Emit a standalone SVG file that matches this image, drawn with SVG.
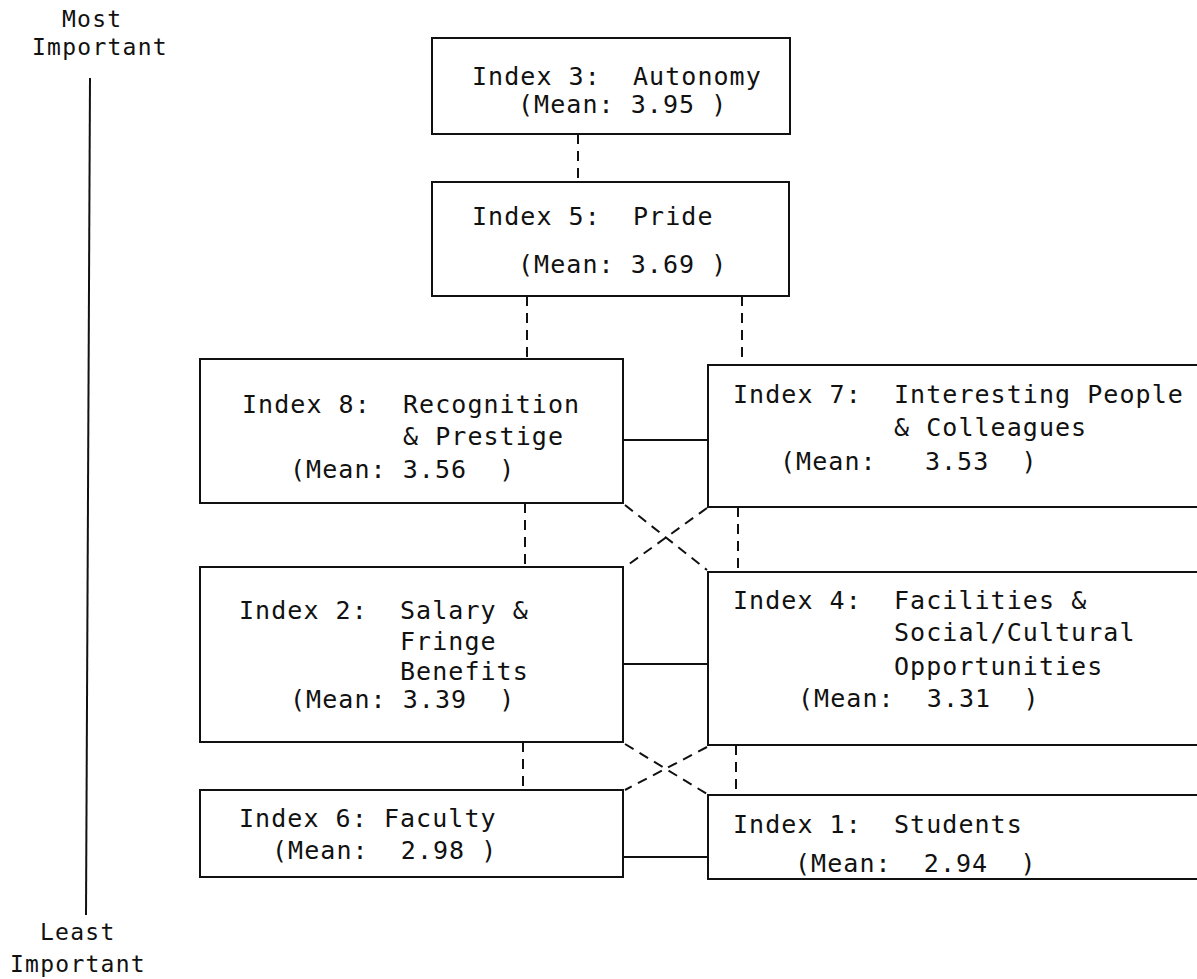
<svg xmlns="http://www.w3.org/2000/svg" width="1197" height="979" viewBox="0 0 1197 979">
<style>
.box{fill:none;stroke:#111;stroke-width:2}
.t{font-family:"DejaVu Sans Mono","Liberation Mono",monospace;font-size:25px;letter-spacing:1.05px;fill:#111}
.ax{font-family:"DejaVu Sans Mono","Liberation Mono",monospace;font-size:23px;letter-spacing:1.25px;fill:#111}
.solid{stroke:#111;stroke-width:2;fill:none}
.dash{stroke:#111;stroke-width:2;fill:none;stroke-dasharray:10 7}
</style>
<rect width="1197" height="979" fill="#fff"/>
<g id="axis">
<line class="solid" x1="90" y1="78" x2="86" y2="915"/>
<text class="ax" x="62" y="27">Most</text>
<text class="ax" x="32" y="55">Important</text>
<text class="ax" x="40" y="940">Least</text>
<text class="ax" x="10" y="972">Important</text>
</g>
<g id="connectors">
<line class="dash" x1="578" y1="134" x2="578" y2="182"/>
<line class="dash" x1="527" y1="296" x2="527" y2="359"/>
<line class="dash" x1="742" y1="296" x2="742" y2="365"/>
<line class="solid" x1="623" y1="440" x2="708" y2="440"/>
<line class="dash" x1="525" y1="503" x2="525" y2="567"/>
<line class="dash" x1="738" y1="507" x2="738" y2="572"/>
<line class="dash" x1="625" y1="505" x2="707" y2="570"/>
<line class="dash" x1="707" y1="508" x2="625" y2="567"/>
<line class="solid" x1="623" y1="664" x2="708" y2="664"/>
<line class="dash" x1="523" y1="742" x2="523" y2="790"/>
<line class="dash" x1="736" y1="745" x2="736" y2="795"/>
<line class="dash" x1="625" y1="744" x2="707" y2="794"/>
<line class="dash" x1="707" y1="747" x2="625" y2="790"/>
<line class="solid" x1="623" y1="857" x2="708" y2="857"/>
</g>
<g id="index3">
<rect class="box" x="432" y="38" width="358" height="96"/>
<text class="t" xml:space="preserve" x="472" y="85">Index 3:  Autonomy</text>
<text class="t" xml:space="preserve" x="518" y="113">(Mean: 3.95 )</text>
</g>
<g id="index5">
<rect class="box" x="432" y="182" width="357" height="114"/>
<text class="t" xml:space="preserve" x="472" y="225">Index 5:  Pride</text>
<text class="t" xml:space="preserve" x="518" y="273">(Mean: 3.69 )</text>
</g>
<g id="index8">
<rect class="box" x="200" y="359" width="423" height="144"/>
<text class="t" xml:space="preserve" x="242" y="413">Index 8:  Recognition</text>
<text class="t" xml:space="preserve" x="403" y="445">&amp; Prestige</text>
<text class="t" xml:space="preserve" x="290" y="478">(Mean: 3.56  )</text>
</g>
<g id="index7">
<rect class="box" x="708" y="365" width="500" height="142"/>
<text class="t" xml:space="preserve" x="733" y="403">Index 7:  Interesting People</text>
<text class="t" xml:space="preserve" x="894" y="436">&amp; Colleagues</text>
<text class="t" xml:space="preserve" x="780" y="470">(Mean:   3.53  )</text>
</g>
<g id="index2">
<rect class="box" x="200" y="567" width="423" height="175"/>
<text class="t" xml:space="preserve" x="239" y="619">Index 2:  Salary &amp;</text>
<text class="t" xml:space="preserve" x="400" y="650">Fringe</text>
<text class="t" xml:space="preserve" x="400" y="680">Benefits</text>
<text class="t" xml:space="preserve" x="290" y="708">(Mean: 3.39  )</text>
</g>
<g id="index4">
<rect class="box" x="708" y="572" width="500" height="173"/>
<text class="t" xml:space="preserve" x="733" y="609">Index 4:  Facilities &amp;</text>
<text class="t" xml:space="preserve" x="894" y="641">Social/Cultural</text>
<text class="t" xml:space="preserve" x="894" y="675">Opportunities</text>
<text class="t" xml:space="preserve" x="798" y="707">(Mean:  3.31  )</text>
</g>
<g id="index6">
<rect class="box" x="200" y="790" width="423" height="87"/>
<text class="t" xml:space="preserve" x="239" y="827">Index 6: Faculty</text>
<text class="t" xml:space="preserve" x="272" y="859">(Mean:  2.98 )</text>
</g>
<g id="index1">
<rect class="box" x="708" y="795" width="500" height="84"/>
<text class="t" xml:space="preserve" x="733" y="833">Index 1:  Students</text>
<text class="t" xml:space="preserve" x="795" y="872">(Mean:  2.94  )</text>
</g>
</svg>
